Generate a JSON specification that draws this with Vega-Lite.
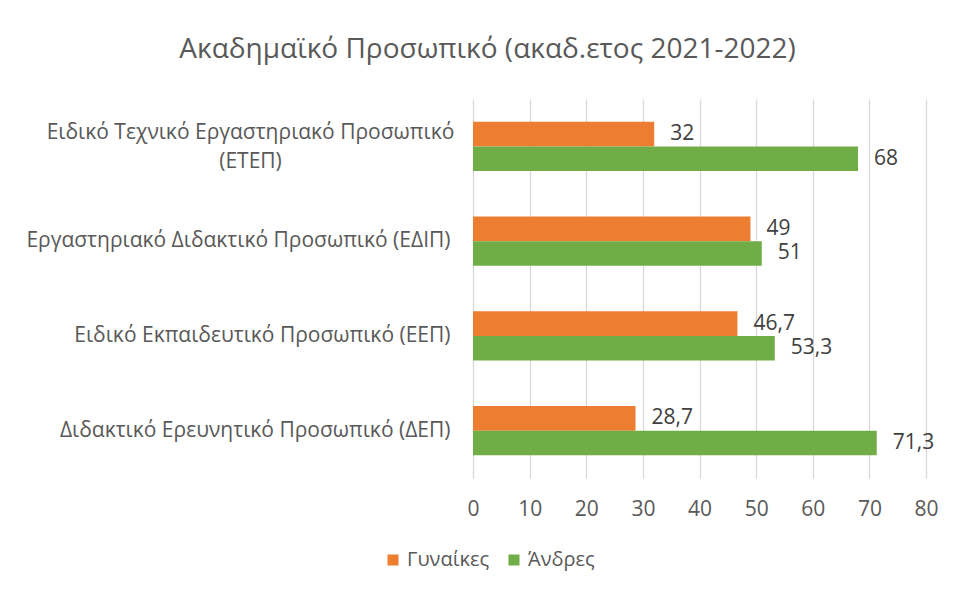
{
  "$schema": "https://vega.github.io/schema/vega-lite/v6.json",
  "autosize": {"type": "none"},
  "width": 453,
  "height": 379,
  "padding": {"left": 473, "top": 99, "right": 30, "bottom": 119},
  "background": "white",
  "config": {
    "font": "Open Sans",
    "view": {"stroke": null},
    "locale": {"number": {"decimal": ",", "thousands": ".", "grouping": [3], "currency": ["", " €"]}}
  },
  "title": {
    "text": "Ακαδημαϊκό Προσωπικό (ακαδ.ετος 2021-2022)",
    "font": "Open Sans",
    "fontSize": 28,
    "fontWeight": "normal",
    "color": "#595959",
    "anchor": "middle",
    "frame": "group",
    "dx": -212,
    "offset": 35
  },
  "data": {
    "values": [
      {"cat": "Ειδικό Τεχνικό Εργαστηριακό Προσωπικό|(ΕΤΕΠ)", "gender": "Γυναίκες", "value": 32},
      {"cat": "Ειδικό Τεχνικό Εργαστηριακό Προσωπικό|(ΕΤΕΠ)", "gender": "Άνδρες", "value": 68},
      {"cat": "Εργαστηριακό Διδακτικό Προσωπικό (ΕΔΙΠ)", "gender": "Γυναίκες", "value": 49},
      {"cat": "Εργαστηριακό Διδακτικό Προσωπικό (ΕΔΙΠ)", "gender": "Άνδρες", "value": 51},
      {"cat": "Ειδικό Εκπαιδευτικό Προσωπικό (ΕΕΠ)", "gender": "Γυναίκες", "value": 46.7},
      {"cat": "Ειδικό Εκπαιδευτικό Προσωπικό (ΕΕΠ)", "gender": "Άνδρες", "value": 53.3},
      {"cat": "Διδακτικό Ερευνητικό Προσωπικό (ΔΕΠ)", "gender": "Γυναίκες", "value": 28.7},
      {"cat": "Διδακτικό Ερευνητικό Προσωπικό (ΔΕΠ)", "gender": "Άνδρες", "value": 71.3}
    ]
  },
  "encoding": {
    "y": {
      "field": "cat",
      "type": "nominal",
      "sort": null,
      "scale": {"paddingInner": 0.48, "paddingOuter": 0.24},
      "axis": {
        "title": null,
        "domain": false,
        "ticks": false,
        "labelFont": "Open Sans",
        "labelFontSize": 21,
        "labelColor": "#595959",
        "labelLimit": 500,
        "labelLineHeight": 29,
        "labelBaseline": "middle",
        "labelExpr": "split(datum.label, '|')",
        "labelAlign": {"condition": {"test": "indexof(datum.value, '|') >= 0", "value": "center"}, "value": "right"},
        "labelPadding": {"condition": {"test": "indexof(datum.value, '|') >= 0", "value": 223}, "value": 23},
        "labelOffset": {"condition": {"test": "indexof(datum.value, '|') >= 0", "value": -13}, "value": 0}
      }
    },
    "yOffset": {
      "field": "gender",
      "type": "nominal",
      "sort": ["Γυναίκες", "Άνδρες"],
      "scale": {"paddingInner": 0, "paddingOuter": 0}
    },
    "x": {
      "field": "value",
      "type": "quantitative",
      "scale": {"domain": [0, 80], "nice": false},
      "axis": {
        "title": null,
        "values": [0, 10, 20, 30, 40, 50, 60, 70, 80],
        "domain": false,
        "ticks": false,
        "grid": true,
        "gridColor": "#d9d9d9",
        "gridWidth": 1.3,
        "labelFont": "Open Sans",
        "labelFontSize": 21,
        "labelColor": "#595959",
        "labelPadding": 20,
        "labelFlush": false
      }
    }
  },
  "layer": [
    {
      "mark": {"type": "bar"},
      "encoding": {
        "color": {
          "field": "gender",
          "type": "nominal",
          "scale": {"domain": ["Γυναίκες", "Άνδρες"], "range": ["#ED7D31", "#70AD47"]},
          "legend": {
            "title": null,
            "orient": "none",
            "direction": "horizontal",
            "legendX": -90,
            "legendY": 451,
            "symbolType": "square",
            "symbolSize": 121,
            "symbolStrokeWidth": 0,
            "symbolOpacity": 1,
            "labelFont": "Open Sans",
            "labelFontSize": 20,
            "labelColor": "#595959",
            "columnPadding": 14,
            "labelOffset": 4
          }
        }
      }
    },
    {
      "mark": {"type": "text", "align": "left", "baseline": "middle", "dx": 16, "fontSize": 21, "font": "Open Sans", "color": "#404040"},
      "encoding": {
        "text": {"field": "value", "type": "quantitative", "format": ".1~f"}
      }
    }
  ]
}
